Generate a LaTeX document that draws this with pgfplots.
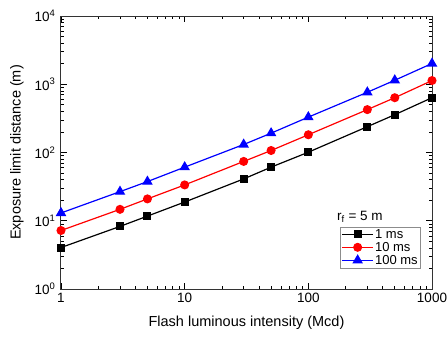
\documentclass[border=0pt]{standalone}
\usepackage{pgfplots}
\pgfplotsset{compat=1.18}
\usepackage{fontspec}
\setmainfont{Liberation Sans}
\begin{document}
\begin{tikzpicture}
\useasboundingbox (-61pt,-51pt) rectangle (386pt,289pt);
\begin{axis}[
  at={(0,0)}, anchor=south west,
  scale only axis,
  width=371pt, height=273pt,
  xmode=log, ymode=log,
  xmin=1, xmax=1000, ymin=1, ymax=10000,
  xtick={1,10,100,1000}, xticklabels={1,10,100,1000},
  ytick={1,10,100,1000,10000},
  yticklabels={10\textsuperscript{0},10\textsuperscript{1},10\textsuperscript{2},10\textsuperscript{3},10\textsuperscript{4}},
  tick align=inside,
  major tick length=6pt, minor tick length=3.5pt,
  every tick/.style={black, line width=0.7pt},
  axis line style={line width=1pt, black!80},
  tick label style={font=\fontsize{13.5}{16}\selectfont},
  yticklabel style={xshift=-2pt},
  xticklabel style={yshift=-1pt},
  label style={font=\fontsize{14.5}{16}\selectfont},
  xlabel={Flash luminous intensity (Mcd)},
  ylabel={Exposure limit distance (m)},
  xlabel style={at={(axis description cs:0.5,-0.1245)}, anchor=center},
  ylabel style={at={(axis description cs:-0.1186,0.5)}, anchor=center},
  legend style={at={(rel axis cs:0.968,0.077)}, anchor=south east, draw=black!45, font=\fontsize{13}{14}\selectfont, inner sep=1pt, row sep=0pt, nodes={inner sep=1.2pt}},
  legend cell align=left,
  legend image code/.code={\draw[mark repeat=2,mark phase=2] plot coordinates {(0cm,0cm) (0.55cm,0cm) (1.1cm,0cm)};},
  legend image post style={line width=1.2pt},
]
\addplot[black, line width=1.2pt, mark=square*, mark size=3.4pt] coordinates {
(1,4.05) (3,8.26) (5,11.7) (10,18.8) (30,41) (50,61) (100,101) (300,239) (500,358) (1000,635)};
\addlegendentry{1 ms}
\addplot[red, line width=1.2pt, mark=*, mark size=3.9pt] coordinates {
(1,7.2) (3,14.7) (5,20.9) (10,33.5) (30,74) (50,107) (100,182) (300,425) (500,635) (1000,1133)};
\addlegendentry{10 ms}
\addplot[blue, line width=1.2pt, mark=triangle*, mark size=4.9pt] coordinates {
(1,13) (3,26.7) (5,37.5) (10,61) (30,131) (50,192) (100,330) (300,763) (500,1145) (1000,2015)};
\addlegendentry{100 ms}
\node[anchor=west, font=\fontsize{13.5}{16}\selectfont] at (rel axis cs:0.735,0.264) {r\textsubscript{f} = 5 m};
\end{axis}
\end{tikzpicture}
\end{document}
